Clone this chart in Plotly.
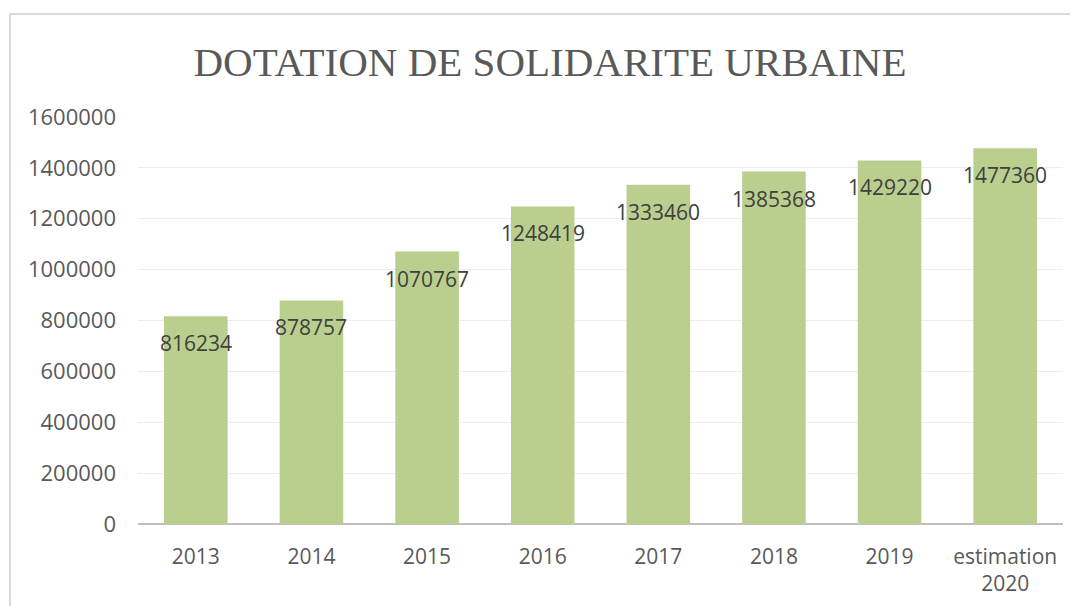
import plotly.graph_objects as go

categories = ["2013", "2014", "2015", "2016", "2017", "2018", "2019", "estimation<br>2020"]
values = [816234, 878757, 1070767, 1248419, 1333460, 1385368, 1429220, 1477360]
tick_vals = [0, 200000, 400000, 600000, 800000, 1000000, 1200000, 1400000, 1600000]
title_text = "DOTATION DE SOLIDARITE URBAINE"

W, H = 1078, 606
OFF = 8  # default page body margin
ml, mr, mt, mb = 138 - OFF, 15 + OFF, 117 - OFF, 82 + OFF
pw, ph = W - ml - mr, H - mt - mb

fig = go.Figure()
fig.add_trace(go.Bar(
    x=categories, y=values,
    marker=dict(color="#bacf8e", line=dict(width=0)),
    hoverinfo="x+y",
))

for i, v in enumerate(values):
    fig.add_annotation(
        x=i, y=v, xref="x", yref="y", text=str(v), showarrow=False,
        yanchor="middle", xanchor="center", yshift=-27,
        font=dict(family="Open Sans, sans-serif", size=21, color="#404040"),
    )

# chart-area border (extends beyond the visible window on right/bottom)
bx0, by0 = 10 - OFF, 14 - OFF
fig.add_shape(
    type="rect", xref="paper", yref="paper",
    x0=(bx0 - ml) / pw, x1=(W + 30 - ml) / pw,
    y0=-(H + 30 - (H - mb)) / ph, y1=((H - mb) - by0) / ph,
    line=dict(color="#d9d9d9", width=2), fillcolor="rgba(0,0,0,0)", layer="below",
)

fig.update_layout(
    width=W, height=H,
    margin=dict(l=ml, r=mr, t=mt, b=mb),
    paper_bgcolor="white", plot_bgcolor="white",
    bargap=0.45,
    showlegend=False,
    title=dict(
        text=title_text, x=(550 - OFF) / W, xanchor="center", y=1 - (62 - OFF) / H, yanchor="middle",
        font=dict(family="Liberation Serif, serif", size=41, color="#595959"),
    ),
    xaxis=dict(
        type="category", range=[-0.5, len(categories) - 0.5],
        showgrid=False, showline=False, ticks="", ticklabelstandoff=18,
        tickfont=dict(family="Open Sans, sans-serif", size=21, color="#595959"),
        fixedrange=True,
    ),
    yaxis=dict(
        range=[0, 1600000], tickvals=tick_vals, ticktext=[str(t) for t in tick_vals],
        showgrid=True, gridcolor="#ededed", gridwidth=1,
        zeroline=True, zerolinecolor="#bfbfbf", zerolinewidth=2,
        showline=False, ticks="", ticklabelstandoff=21,
        tickfont=dict(family="Open Sans, sans-serif", size=22, color="#595959"),
        fixedrange=True,
    ),
)

fig.write_html("out.html")
